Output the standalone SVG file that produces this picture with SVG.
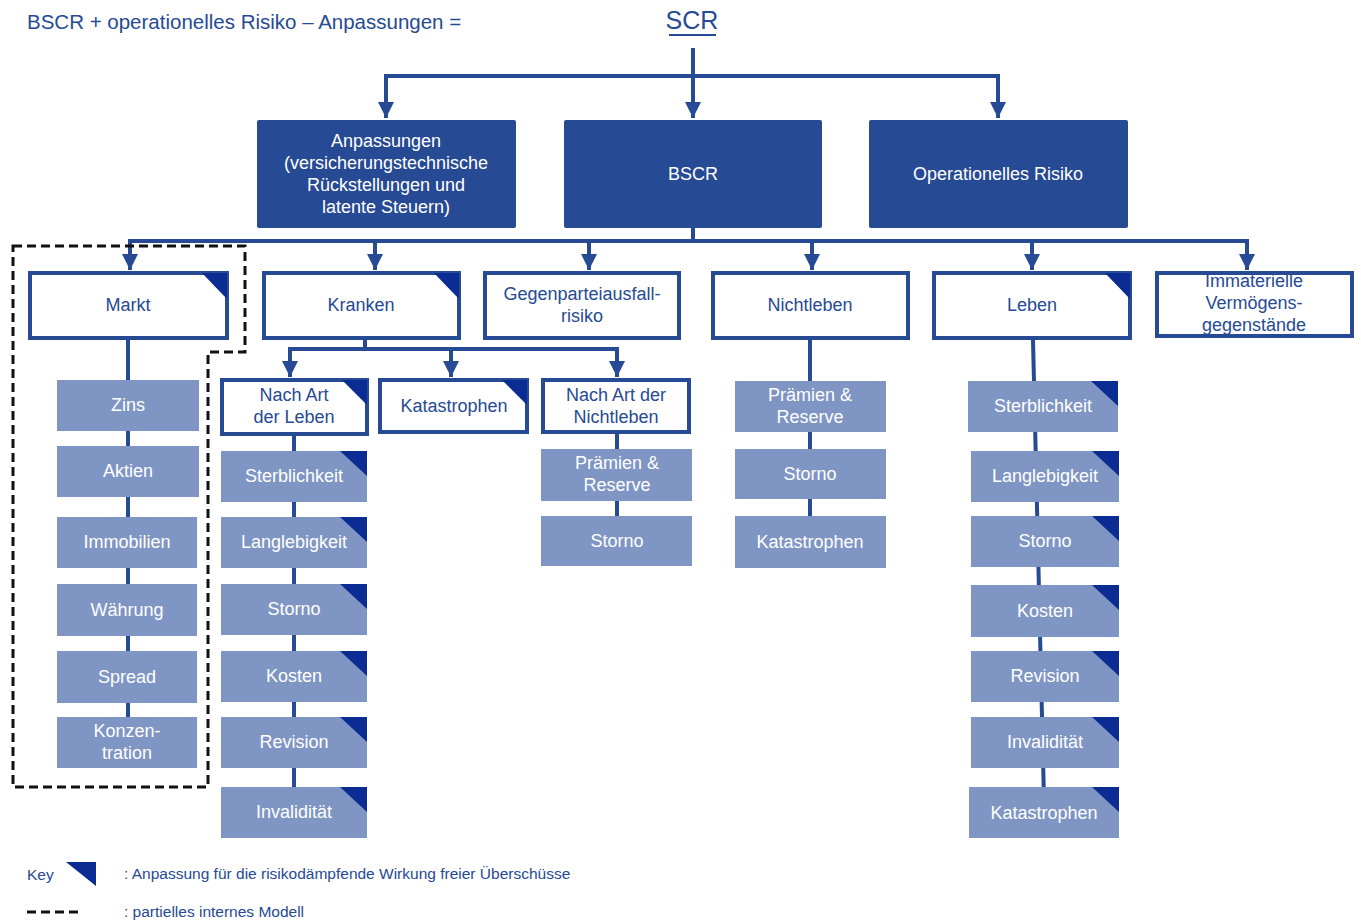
<svg xmlns="http://www.w3.org/2000/svg" width="1361" height="922" viewBox="0 0 1361 922">
<defs>
<style>
text{font-family:"Liberation Sans",Arial,sans-serif;}
.dk{fill:#264A93;}
.wb{fill:#fff;stroke:#264A93;stroke-width:4;}
.lb{fill:#7F96C4;}
.tri{fill:#0B2C92;}
.tw{fill:#fff;font-size:18px;text-anchor:middle;}
.tb{fill:#264A93;font-size:18px;text-anchor:middle;}
.con{stroke:#264A93;stroke-width:4;fill:none;}
.hd{fill:#264A93;font-size:20.5px;}
.lg{fill:#264A93;font-size:15.5px;}
</style>
<marker id="ah" viewBox="0 0 10 10" refX="10" refY="5" markerWidth="4" markerHeight="4" orient="auto" markerUnits="strokeWidth">
<path d="M0,0 L10,5 L0,10 Z" fill="#264A93"/>
</marker>
</defs>
<rect width="1361" height="922" fill="#fff"/>

<text class="hd" x="27" y="29">BSCR + operationelles Risiko – Anpassungen =</text>
<g id="scr"><text x="692" y="29" font-size="25" fill="#264A93" text-anchor="middle" font-family="Liberation Sans,Arial,sans-serif">SCR</text><line x1="669" y1="35" x2="716" y2="35" stroke="#264A93" stroke-width="2"/></g>

<g id="connectors">
<line class="con" x1="693" y1="48" x2="693" y2="118" marker-end="url(#ah)"/>
<polyline class="con" points="386,118 386,76 998,76 998,118" marker-end="url(#ah)"/>
<line class="con" x1="386" y1="76" x2="386" y2="118" marker-end="url(#ah)"/>
<line class="con" x1="693" y1="228" x2="693" y2="241"/>
<line class="con" x1="128" y1="241" x2="1249" y2="241"/>
<line class="con" x1="130" y1="241" x2="130" y2="270" marker-end="url(#ah)"/>
<line class="con" x1="375" y1="241" x2="375" y2="270" marker-end="url(#ah)"/>
<line class="con" x1="589" y1="241" x2="589" y2="270" marker-end="url(#ah)"/>
<line class="con" x1="812" y1="241" x2="812" y2="270" marker-end="url(#ah)"/>
<line class="con" x1="1032" y1="241" x2="1032" y2="270" marker-end="url(#ah)"/>
<line class="con" x1="1247" y1="241" x2="1247" y2="270" marker-end="url(#ah)"/>
<line class="con" x1="128" y1="340" x2="128" y2="740"/>
<line class="con" x1="365" y1="340" x2="365" y2="349"/>
<line class="con" x1="288" y1="349" x2="619" y2="349"/>
<line class="con" x1="290" y1="349" x2="290" y2="377" marker-end="url(#ah)"/>
<line class="con" x1="451" y1="349" x2="451" y2="377" marker-end="url(#ah)"/>
<line class="con" x1="617" y1="349" x2="617" y2="377" marker-end="url(#ah)"/>
<line class="con" x1="294" y1="435" x2="294" y2="800"/>
<line class="con" x1="617" y1="433" x2="617" y2="530"/>
<line class="con" x1="810" y1="340" x2="810" y2="530"/>
<line class="con" x1="1033" y1="340" x2="1044" y2="800"/>
</g>

<g id="n-anpassungen"><rect class="dk" x="257" y="120" width="259" height="108" rx="2"/>
<text class="tw"><tspan x="386" y="147">Anpassungen</tspan><tspan x="386" y="169">(versicherungstechnische</tspan><tspan x="386" y="191">Rückstellungen und</tspan><tspan x="386" y="213">latente Steuern)</tspan></text></g>
<g id="n-bscr"><rect class="dk" x="564" y="120" width="258" height="108" rx="2"/><text class="tw" x="693" y="180">BSCR</text></g>
<g id="n-oprisk"><rect class="dk" x="869" y="120" width="259" height="108" rx="2"/><text class="tw" x="998" y="180">Operationelles Risiko</text></g>

<g id="n-markt"><rect class="wb" x="30" y="273" width="197" height="65"/><path class="tri" d="M202,273 L227,273 L227,299 Z"/><text class="tb" x="128" y="311">Markt</text></g>
<g id="n-kranken"><rect class="wb" x="264" y="273" width="195" height="65"/><path class="tri" d="M434,273 L459,273 L459,299 Z"/><text class="tb" x="361" y="311">Kranken</text></g>
<g id="n-gegenpartei"><rect class="wb" x="485" y="273" width="194" height="65"/><text class="tb"><tspan x="582" y="300">Gegenparteiausfall-</tspan><tspan x="582" y="322">risiko</tspan></text></g>
<g id="n-nichtleben"><rect class="wb" x="713" y="273" width="195" height="65"/><text class="tb" x="810" y="311">Nichtleben</text></g>
<g id="n-leben"><rect class="wb" x="934" y="273" width="196" height="65"/><path class="tri" d="M1105,273 L1130,273 L1130,299 Z"/><text class="tb" x="1032" y="311">Leben</text></g>
<g id="n-immaterielle"><rect class="wb" x="1157" y="273" width="195" height="63"/><text class="tb"><tspan x="1254" y="287">Immaterielle</tspan><tspan x="1254" y="309">Vermögens-</tspan><tspan x="1254" y="331">gegenstände</tspan></text></g>

<g id="n-zins"><rect class="lb" x="57" y="380" width="142" height="51"/><text class="tw" x="128" y="411">Zins</text></g>
<g id="n-aktien"><rect class="lb" x="57" y="446" width="142" height="51"/><text class="tw" x="128" y="477">Aktien</text></g>
<g id="n-immobilien"><rect class="lb" x="57" y="517" width="140" height="51"/><text class="tw" x="127" y="548">Immobilien</text></g>
<g id="n-waehrung"><rect class="lb" x="57" y="584" width="140" height="52"/><text class="tw" x="127" y="616">Währung</text></g>
<g id="n-spread"><rect class="lb" x="57" y="651" width="140" height="52"/><text class="tw" x="127" y="683">Spread</text></g>
<g id="n-konzentration"><rect class="lb" x="57" y="717" width="140" height="51"/><text class="tw"><tspan x="127" y="737">Konzen-</tspan><tspan x="127" y="759">tration</tspan></text></g>

<g id="n-artleben"><rect class="wb" x="222" y="380" width="145" height="54"/><path class="tri" d="M342,380 L367,380 L367,405 Z"/><text class="tb"><tspan x="294" y="401">Nach Art</tspan><tspan x="294" y="423">der Leben</tspan></text></g>
<g id="n-kr-katastrophen"><rect class="wb" x="380" y="380" width="147" height="52"/><path class="tri" d="M502,380 L527,380 L527,405 Z"/><text class="tb" x="454" y="412">Katastrophen</text></g>
<g id="n-artnichtleben"><rect class="wb" x="543" y="380" width="146" height="52"/><text class="tb"><tspan x="616" y="401">Nach Art der</tspan><tspan x="616" y="423">Nichtleben</tspan></text></g>

<g id="n-kl-sterblichkeit"><rect class="lb" x="221" y="451" width="146" height="51"/><path class="tri" d="M340,451 L367,451 L367,476 Z"/><text class="tw" x="294" y="482">Sterblichkeit</text></g>
<g id="n-kl-langlebigkeit"><rect class="lb" x="221" y="517" width="146" height="51"/><path class="tri" d="M340,517 L367,517 L367,542 Z"/><text class="tw" x="294" y="548">Langlebigkeit</text></g>
<g id="n-kl-storno"><rect class="lb" x="221" y="584" width="146" height="51"/><path class="tri" d="M340,584 L367,584 L367,609 Z"/><text class="tw" x="294" y="615">Storno</text></g>
<g id="n-kl-kosten"><rect class="lb" x="221" y="651" width="146" height="51"/><path class="tri" d="M340,651 L367,651 L367,676 Z"/><text class="tw" x="294" y="682">Kosten</text></g>
<g id="n-kl-revision"><rect class="lb" x="221" y="717" width="146" height="51"/><path class="tri" d="M340,717 L367,717 L367,742 Z"/><text class="tw" x="294" y="748">Revision</text></g>
<g id="n-kl-invaliditaet"><rect class="lb" x="221" y="787" width="146" height="51"/><path class="tri" d="M340,787 L367,787 L367,812 Z"/><text class="tw" x="294" y="818">Invalidität</text></g>

<g id="n-kn-praemien"><rect class="lb" x="541" y="449" width="151" height="52"/><text class="tw"><tspan x="617" y="469">Prämien &amp;</tspan><tspan x="617" y="491">Reserve</tspan></text></g>
<g id="n-kn-storno"><rect class="lb" x="541" y="516" width="151" height="50"/><text class="tw" x="617" y="547">Storno</text></g>

<g id="n-nl-praemien"><rect class="lb" x="735" y="381" width="151" height="51"/><text class="tw"><tspan x="810" y="401">Prämien &amp;</tspan><tspan x="810" y="423">Reserve</tspan></text></g>
<g id="n-nl-storno"><rect class="lb" x="735" y="449" width="151" height="50"/><text class="tw" x="810" y="480">Storno</text></g>
<g id="n-nl-katastrophen"><rect class="lb" x="735" y="516" width="151" height="52"/><text class="tw" x="810" y="548">Katastrophen</text></g>

<g id="n-l-sterblichkeit"><rect class="lb" x="968" y="381" width="150" height="51"/><path class="tri" d="M1091,381 L1118,381 L1118,406 Z"/><text class="tw" x="1043" y="412">Sterblichkeit</text></g>
<g id="n-l-langlebigkeit"><rect class="lb" x="971" y="451" width="148" height="51"/><path class="tri" d="M1092,451 L1119,451 L1119,476 Z"/><text class="tw" x="1045" y="482">Langlebigkeit</text></g>
<g id="n-l-storno"><rect class="lb" x="971" y="516" width="148" height="51"/><path class="tri" d="M1092,516 L1119,516 L1119,541 Z"/><text class="tw" x="1045" y="547">Storno</text></g>
<g id="n-l-kosten"><rect class="lb" x="971" y="585" width="148" height="52"/><path class="tri" d="M1092,585 L1119,585 L1119,610 Z"/><text class="tw" x="1045" y="617">Kosten</text></g>
<g id="n-l-revision"><rect class="lb" x="971" y="651" width="148" height="51"/><path class="tri" d="M1092,651 L1119,651 L1119,676 Z"/><text class="tw" x="1045" y="682">Revision</text></g>
<g id="n-l-invaliditaet"><rect class="lb" x="971" y="717" width="148" height="51"/><path class="tri" d="M1092,717 L1119,717 L1119,742 Z"/><text class="tw" x="1045" y="748">Invalidität</text></g>
<g id="n-l-katastrophen"><rect class="lb" x="969" y="787" width="150" height="51"/><path class="tri" d="M1092,787 L1119,787 L1119,812 Z"/><text class="tw" x="1044" y="819">Katastrophen</text></g>

<g id="dashed-region"><path d="M13,246 L245,246 L245,352 L208,352 L208,787 L13,787 Z" fill="none" stroke="#111" stroke-width="3" stroke-dasharray="9,5"/></g>

<g id="legend">
<text class="lg" x="27" y="880">Key</text>
<path class="tri" d="M66,862 L96,862 L96,886 Z"/>
<text class="lg" x="124" y="879">: Anpassung für die risikodämpfende Wirkung freier Überschüsse</text>
<line x1="27" y1="912" x2="78" y2="912" stroke="#111" stroke-width="3" stroke-dasharray="9,5"/>
<text class="lg" x="124" y="917">: partielles internes Modell</text>
</g>
</svg>
